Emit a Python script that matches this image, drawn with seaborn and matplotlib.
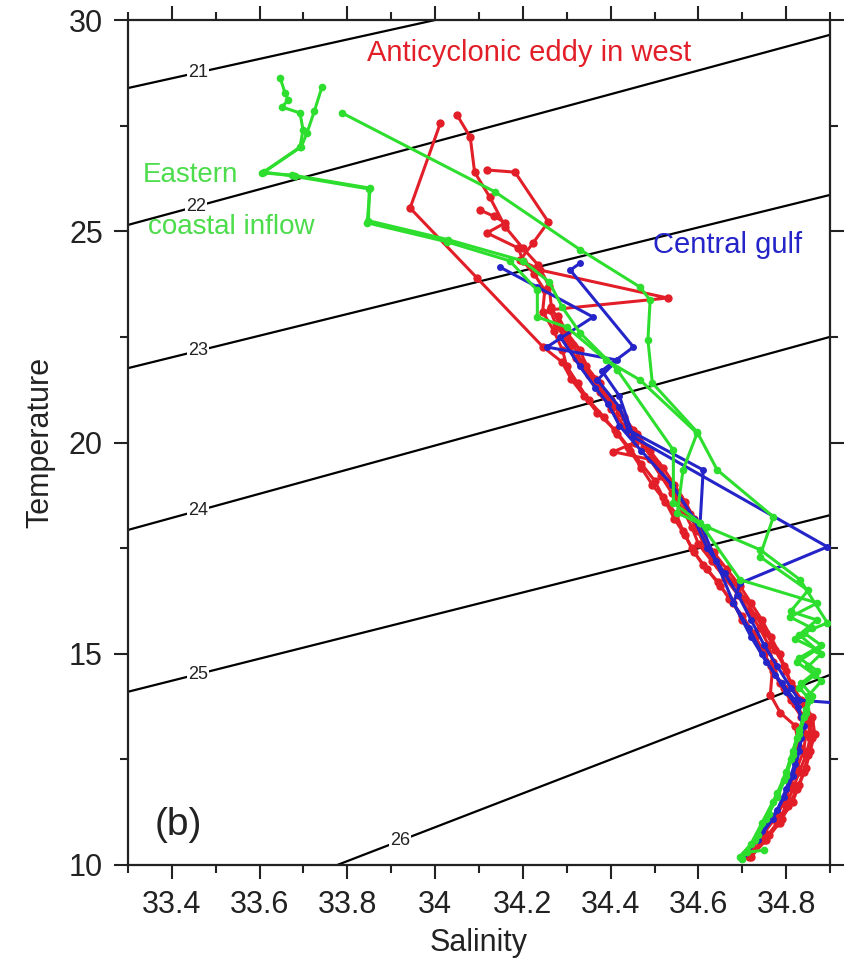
import matplotlib
matplotlib.use("Agg")
import matplotlib.pyplot as plt
from matplotlib.ticker import MultipleLocator
import seaborn as sns
import pandas as pd
import numpy as np

# sigma-t isopycnals
sigma_levels = [21, 22, 23, 24, 25, 26]
sigma_sal_start = [33.3, 33.3, 33.3, 33.3, 33.3, 33.777]
sigma_temp_start = [28.39, 25.15, 21.76, 17.93, 14.10, 10.0]
sigma_sal_end = [34.0, 34.9, 34.9, 34.9, 34.9, 34.9]
sigma_temp_end = [30.0, 29.65, 25.86, 22.50, 18.28, 14.50]
sigma_label_sal = [33.46, 33.455, 33.46, 33.46, 33.46, 33.92]

x_ticks = [33.4, 33.6, 33.8, 34.0, 34.2, 34.4, 34.6, 34.8]
x_tick_labels = ["33.4", "33.6", "33.8", "34", "34.2", "34.4", "34.6", "34.8"]
y_ticks = [10, 15, 20, 25, 30]

# Anticyclonic eddy in west (red)
red1_sal = [34.012, 33.943, 34.095, 34.246, 34.29, 34.31, 34.34, 34.37, 34.41, 34.44, 34.47, 34.50,
            34.52, 34.55, 34.565, 34.585, 34.61, 34.645, 34.67, 34.70, 34.725, 34.745, 34.765, 34.785,
            34.81, 34.835, 34.845, 34.84, 34.825, 34.81, 34.795, 34.775, 34.745, 34.71]
red1_temp = [27.56, 25.55, 23.90, 22.26, 21.90, 21.50, 21.10, 20.70, 20.30, 19.90, 19.50, 19.10,
             18.70, 18.30, 17.90, 17.50, 17.10, 16.70, 16.30, 15.90, 15.50, 15.10, 14.70, 14.30,
             13.90, 13.50, 13.10, 12.70, 12.30, 11.90, 11.50, 11.10, 10.70, 10.30]
red2_sal = [34.050, 34.080, 34.090, 34.125, 34.160, 34.200, 34.235, 34.260, 34.265, 34.290, 34.315,
            34.335, 34.365, 34.385, 34.420, 34.450, 34.475, 34.505, 34.530, 34.555, 34.580, 34.600,
            34.615, 34.645, 34.680, 34.705, 34.730, 34.755, 34.775, 34.795, 34.810, 34.835, 34.860,
            34.865, 34.855, 34.845, 34.830, 34.815, 34.790, 34.760, 34.720]
red2_temp = [27.75, 27.23, 26.40, 25.80, 25.10, 24.60, 24.20, 23.70, 23.20, 22.70, 22.30,
             21.90, 21.50, 21.10, 20.70, 20.30, 19.90, 19.50, 19.10, 18.70, 18.30, 17.90,
             17.50, 17.10, 16.70, 16.30, 15.90, 15.50, 15.10, 14.70, 14.30, 13.90, 13.50,
             13.10, 12.70, 12.30, 11.90, 11.50, 11.10, 10.70, 10.30]
red3_sal = [34.118, 34.182, 34.258, 34.223, 34.194, 34.240, 34.530, 34.262, 34.275, 34.300, 34.320,
            34.350, 34.375, 34.400, 34.430, 34.455, 34.406, 34.490, 34.515, 34.540, 34.565, 34.585,
            34.600, 34.630, 34.660, 34.690, 34.715, 34.740, 34.760, 34.770, 34.764, 34.787, 34.820,
            34.830, 34.820, 34.800, 34.780, 34.750, 34.712]
red3_temp = [26.45, 26.40, 25.22, 24.72, 24.32, 24.08, 23.42, 23.14, 22.80, 22.40, 22.00,
             21.60, 21.20, 20.80, 20.40, 20.00, 19.78, 19.60, 19.20, 18.80, 18.40, 18.00,
             17.60, 17.20, 16.80, 16.40, 16.00, 15.60, 15.20, 14.80, 14.03, 13.60, 13.30,
             12.80, 12.20, 11.60, 11.20, 10.80, 10.25]
red4_sal = [34.103, 34.135, 34.160, 34.118, 34.190, 34.200, 34.225, 34.250, 34.245, 34.270, 34.290,
            34.300, 34.325, 34.350, 34.385, 34.415, 34.445, 34.470, 34.495, 34.525, 34.545, 34.570,
            34.590, 34.620, 34.650, 34.680, 34.700, 34.730, 34.750, 34.770, 34.795, 34.820, 34.850,
            34.855, 34.845, 34.830, 34.815, 34.800, 34.780, 34.750, 34.715]
red4_temp = [25.50, 25.35, 25.20, 24.96, 24.60, 24.30, 24.00, 23.60, 23.10, 22.65, 22.20,
             21.80, 21.40, 21.00, 20.60, 20.20, 19.80, 19.40, 19.00, 18.60, 18.20, 17.80,
             17.40, 17.00, 16.60, 16.20, 15.80, 15.40, 15.00, 14.60, 14.20, 13.80, 13.40,
             13.00, 12.60, 12.20, 11.80, 11.40, 11.00, 10.60, 10.20]
red5_sal = [34.280, 34.300, 34.330, 34.345, 34.375, 34.400, 34.430, 34.460, 34.490, 34.520, 34.545,
            34.570, 34.590, 34.610, 34.635, 34.665, 34.695, 34.720, 34.745, 34.765, 34.785, 34.800,
            34.815, 34.840, 34.855, 34.860, 34.850, 34.840, 34.825, 34.805, 34.785, 34.755, 34.720]
red5_temp = [23.00, 22.60, 22.20, 21.80, 21.40, 21.00, 20.60, 20.20, 19.80, 19.40, 19.00,
             18.60, 18.20, 17.80, 17.40, 17.00, 16.60, 16.20, 15.80, 15.40, 15.00, 14.60,
             14.20, 13.80, 13.40, 13.00, 12.60, 12.20, 11.80, 11.40, 11.00, 10.60, 10.20]

# Central gulf (blue)
blue1_sal = [34.148, 34.233, 34.360, 34.255, 34.415, 34.370, 34.420, 34.440, 34.611, 34.604, 34.640,
             34.680, 34.715, 34.745, 34.775, 34.800, 34.826, 34.840, 34.830, 34.815, 34.795, 34.770,
             34.735, 34.700]
blue1_temp = [24.15, 23.68, 22.97, 22.26, 21.95, 21.48, 20.84, 20.30, 19.35, 18.10, 17.20,
              16.20, 15.60, 15.00, 14.50, 14.10, 13.74, 13.30, 12.70, 12.10, 11.60, 11.10,
              10.60, 10.15]
blue2_sal = [34.331, 34.308, 34.452, 34.380, 34.420, 34.452, 34.894, 34.695, 34.680, 34.720, 34.755,
             34.790, 34.820, 34.835, 34.835, 34.820, 34.800, 34.780, 34.745, 34.705]
blue2_temp = [24.25, 24.08, 22.26, 21.70, 21.10, 20.13, 17.53, 16.67, 16.20, 15.40, 14.80,
              14.30, 13.90, 13.50, 13.00, 12.40, 11.80, 11.30, 10.80, 10.25]
blue3_sal = [34.285, 34.330, 34.365, 34.395, 34.420, 34.470, 34.540, 34.590, 34.620, 34.660, 34.690,
             34.720, 34.750, 34.780, 34.810, 34.830, 34.960]
blue3_temp = [22.50, 21.80, 21.30, 20.90, 20.40, 19.80, 19.00, 18.20, 17.50, 16.90, 16.40,
              15.80, 15.20, 14.70, 14.20, 13.90, 13.80]

# Eastern coastal inflow (green)
green1_sal = [33.647, 33.658, 33.665, 33.651, 33.692, 33.699, 33.692, 33.606, 33.674, 33.852, 33.845,
              34.027, 34.170, 34.233, 34.233, 34.300, 34.390, 34.467, 34.597, 34.565, 34.552, 34.620,
              34.741, 34.832, 34.894, 34.840, 34.880, 34.830, 34.870, 34.835, 34.860, 34.845, 34.830,
              34.815, 34.800, 34.780, 34.755, 34.730, 34.700]
green1_temp = [28.63, 28.27, 28.11, 27.94, 27.80, 27.40, 26.99, 26.38, 26.33, 26.02, 25.20,
               24.75, 24.30, 23.60, 22.97, 22.73, 21.95, 21.48, 20.22, 19.35, 18.33, 18.00,
               17.46, 16.75, 15.73, 15.50, 15.20, 14.90, 14.60, 14.30, 14.00, 13.60, 13.10,
               12.60, 12.10, 11.60, 11.10, 10.60, 10.15]
green2_sal = [33.742, 33.725, 33.708, 33.695, 33.610, 33.680, 33.850, 33.848, 34.030, 34.200, 34.260,
              34.290, 34.330, 34.415, 34.543, 34.543, 34.604, 34.695, 34.871, 34.809, 34.860, 34.820,
              34.870, 34.825, 34.865, 34.830, 34.855, 34.840, 34.825, 34.810, 34.795, 34.770, 34.745,
              34.720, 34.695]
green2_temp = [28.41, 27.85, 27.33, 27.00, 26.40, 26.30, 26.00, 25.25, 24.80, 24.30, 23.80,
               23.20, 22.60, 21.72, 19.82, 18.57, 18.10, 16.75, 16.20, 15.87, 15.60, 15.35,
               15.10, 14.80, 14.50, 14.20, 13.90, 13.50, 13.00, 12.50, 12.00, 11.50, 11.00,
               10.50, 10.20]
green3_sal = [33.788, 34.137, 34.331, 34.467, 34.490, 34.485, 34.495, 34.597, 34.643, 34.771, 34.740,
              34.850, 34.810, 34.870, 34.830, 34.880, 34.850, 34.880, 34.850, 34.845, 34.830, 34.815,
              34.800, 34.780, 34.760, 34.735, 34.710, 34.750]
green3_temp = [27.80, 25.93, 24.56, 23.68, 23.37, 22.43, 21.41, 20.25, 19.35, 18.24, 17.30,
               16.50, 16.00, 15.80, 15.45, 15.00, 14.70, 14.35, 14.00, 13.70, 13.20, 12.70,
               12.20, 11.70, 11.20, 10.70, 10.30, 10.35]

profiles = [
    ("west", "red1", red1_sal, red1_temp),
    ("west", "red2", red2_sal, red2_temp),
    ("west", "red3", red3_sal, red3_temp),
    ("west", "red4", red4_sal, red4_temp),
    ("west", "red5", red5_sal, red5_temp),
    ("central", "blue1", blue1_sal, blue1_temp),
    ("central", "blue2", blue2_sal, blue2_temp),
    ("central", "blue3", blue3_sal, blue3_temp),
    ("east", "green1", green1_sal, green1_temp),
    ("east", "green2", green2_sal, green2_temp),
    ("east", "green3", green3_sal, green3_temp),
]

rows = []
for region, name, sal, temp in profiles:
    for s, t in zip(sal, temp):
        rows.append((region, name, s, t))
df = pd.DataFrame(rows, columns=["region", "profile", "salinity", "temperature"])

colors = {"west": "#e21f28", "central": "#2424c8", "east": "#2ede2e"}
marker_sizes = {"west": 6, "central": 5, "east": 5.5}

sns.set_theme(style="ticks")
plt.rcParams["font.family"] = ["Liberation Sans", "DejaVu Sans"]

fig = plt.figure(figsize=(8.52, 9.72), dpi=100)
ax = fig.add_axes([0.1502, 0.1101, 0.824, 0.8693])

# isopycnals with inline labels
for i, level in enumerate(sigma_levels):
    xs = [sigma_sal_start[i], sigma_sal_end[i]]
    ys = [sigma_temp_start[i], sigma_temp_end[i]]
    ax.plot(xs, ys, color="black", linewidth=1.6, zorder=2)
    lt = np.interp(sigma_label_sal[i], xs, ys)
    ax.text(sigma_label_sal[i], lt, str(level), fontsize=13, ha="center", va="center",
            color="#222222", zorder=3,
            bbox=dict(boxstyle="square,pad=0.05", fc="white", ec="none"))

# profiles, drawn region by region
for region in ["west", "central", "east"]:
    sub = df[df["region"] == region]
    sns.lineplot(data=sub, x="salinity", y="temperature", units="profile", estimator=None,
                 sort=False, color=colors[region], linewidth=2.2, marker="o",
                 markersize=marker_sizes[region], markeredgewidth=0, ax=ax, zorder=4)

ax.set_xlim(33.3, 34.9)
ax.set_ylim(10, 30)
ax.set_xticks(x_ticks)
ax.set_xticklabels(x_tick_labels)
ax.set_yticks(y_ticks)
ax.xaxis.set_minor_locator(MultipleLocator(0.1))
ax.yaxis.set_minor_locator(MultipleLocator(2.5))
ax.tick_params(which="both", direction="out", top=True, right=True, width=1.5,
               labelsize=22, colors="#222222")
ax.tick_params(which="major", length=10, pad=8)
ax.tick_params(which="minor", length=6)
for sp in ax.spines.values():
    sp.set_linewidth(1.6)
    sp.set_color("#222222")

ax.set_xlabel("Salinity", fontsize=22, color="#222222", labelpad=6)
ax.set_ylabel("Temperature", fontsize=22, color="#222222", labelpad=10)

ax.text(34.214, 29.22, "Anticyclonic eddy in west", color="#e21f28", fontsize=21,
        ha="center", va="center", zorder=5)
ax.text(33.334, 26.32, "Eastern", color="#4cdc4c", fontsize=20, ha="left", va="center", zorder=5)
ax.text(33.346, 25.10, "coastal inflow", color="#4cdc4c", fontsize=20, ha="left", va="center",
        zorder=5)
ax.text(34.497, 24.67, "Central gulf", color="#2424c8", fontsize=21, ha="left", va="center",
        zorder=5)
ax.text(33.36, 10.95, "(b)", color="#222222", fontsize=28, ha="left", va="center", zorder=5)

fig.savefig("out.png", dpi=100)
